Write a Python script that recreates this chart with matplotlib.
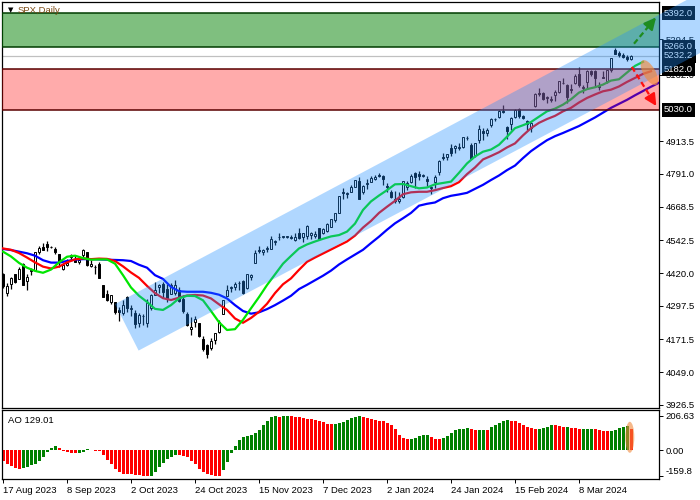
import matplotlib
matplotlib.use("Agg")
import matplotlib.pyplot as plt
from matplotlib.patches import Polygon, Ellipse
from matplotlib.transforms import ScaledTranslation

plt.rcParams['font.family'] = ['Liberation Sans', 'DejaVu Sans']

# daily bars, 17 Aug 2023 .. 27 Mar 2024 (bar index = position on the axis)
opens = [4416, 4344, 4380, 4416, 4397, 4455, 4389, 4426, 4432, 4500,
         4518, 4530, 4516, 4511, 4490, 4434, 4451, 4480, 4473, 4462,
         4487, 4497, 4445, 4441, 4453, 4375, 4342, 4311, 4312, 4282,
         4269, 4329, 4284, 4270, 4233, 4260, 4234, 4289, 4339, 4367,
         4380, 4360, 4342, 4345, 4357, 4322, 4267, 4210, 4235, 4232,
         4175, 4152, 4140, 4171, 4201, 4268, 4334, 4364, 4366, 4384,
         4392, 4365, 4406, 4458, 4505, 4497, 4509, 4511, 4538, 4553,
         4556, 4555, 4555, 4545, 4571, 4554, 4559, 4564, 4557, 4587,
         4568, 4576, 4593, 4618, 4646, 4721, 4714, 4725, 4743, 4765,
         4725, 4754, 4759, 4773, 4786, 4782, 4745, 4725, 4697, 4690,
         4703, 4741, 4759, 4793, 4791, 4784, 4772, 4739, 4760, 4797,
         4853, 4856, 4888, 4886, 4889, 4893, 4925, 4899, 4862, 4916,
         4950, 4944, 4973, 4995, 5004, 5027, 4967, 4977, 5004, 5032,
         5006, 4990, 4964, 5044, 5093, 5093, 5074, 5068, 5085, 5098,
         5131, 5123, 5108, 5132, 5164, 5111, 5134, 5174, 5176, 5123,
         5154, 5140, 5181, 5254, 5245, 5236, 5229, 5220]
highs = [4421, 4381, 4407, 4418, 4443, 4458, 4418, 4440, 4500, 4521,
         4532, 4541, 4522, 4516, 4491, 4457, 4473, 4490, 4488, 4479,
         4511, 4497, 4467, 4451, 4461, 4377, 4357, 4338, 4313, 4293,
         4318, 4335, 4300, 4282, 4269, 4268, 4324, 4341, 4385, 4378,
         4385, 4378, 4383, 4394, 4366, 4339, 4276, 4255, 4259, 4233,
         4184, 4156, 4177, 4195, 4245, 4320, 4374, 4373, 4386, 4391,
         4393, 4415, 4415, 4505, 4521, 4511, 4521, 4557, 4542, 4568,
         4560, 4560, 4562, 4568, 4588, 4569, 4599, 4572, 4578, 4590,
         4590, 4609, 4623, 4644, 4709, 4739, 4725, 4749, 4768, 4778,
         4749, 4772, 4784, 4785, 4793, 4788, 4755, 4729, 4727, 4722,
         4765, 4765, 4791, 4798, 4802, 4792, 4783, 4745, 4786, 4842,
         4868, 4866, 4903, 4898, 4907, 4929, 4932, 4906, 4907, 4975,
         4962, 4964, 5000, 5001, 5030, 5048, 4970, 5003, 5033, 5039,
         5010, 4994, 4984, 5094, 5111, 5098, 5081, 5081, 5105, 5140,
         5149, 5127, 5127, 5165, 5189, 5125, 5180, 5180, 5179, 5136,
         5176, 5180, 5226, 5261, 5250, 5243, 5235, 5234]
lows = [4364, 4335, 4360, 4382, 4396, 4375, 4356, 4414, 4431, 4493,
        4508, 4501, 4512, 4490, 4443, 4430, 4448, 4468, 4460, 4453,
        4478, 4448, 4442, 4417, 4401, 4329, 4316, 4303, 4265, 4239,
        4264, 4275, 4260, 4216, 4220, 4225, 4219, 4283, 4339, 4345,
        4325, 4312, 4342, 4338, 4311, 4269, 4223, 4190, 4220, 4181,
        4128, 4103, 4132, 4153, 4197, 4268, 4334, 4348, 4355, 4355,
        4341, 4360, 4394, 4458, 4496, 4487, 4500, 4511, 4525, 4545,
        4552, 4552, 4546, 4540, 4546, 4537, 4547, 4547, 4551, 4546,
        4565, 4574, 4593, 4611, 4644, 4696, 4701, 4725, 4743, 4697,
        4717, 4736, 4759, 4768, 4780, 4751, 4722, 4699, 4683, 4683,
        4700, 4730, 4757, 4740, 4769, 4780, 4747, 4714, 4740, 4785,
        4844, 4842, 4859, 4870, 4881, 4888, 4916, 4845, 4853, 4907,
        4916, 4934, 4965, 4987, 5000, 5017, 4920, 4956, 5000, 4999,
        4995, 4954, 4946, 5041, 5081, 5068, 5057, 5061, 5064, 5094,
        5127, 5057, 5092, 5128, 5117, 5092, 5111, 5157, 5120, 5104,
        5148, 5131, 5171, 5240, 5230, 5226, 5215, 5216]
closes = [4370, 4370, 4400, 4388, 4436, 4376, 4406, 4433, 4497, 4514,
          4508, 4516, 4518, 4497, 4465, 4451, 4457, 4487, 4462, 4467,
          4505, 4450, 4454, 4444, 4402, 4330, 4320, 4337, 4274, 4275,
          4300, 4288, 4288, 4229, 4263, 4258, 4308, 4336, 4358, 4376,
          4349, 4328, 4374, 4374, 4315, 4278, 4224, 4217, 4248, 4186,
          4137, 4117, 4167, 4194, 4238, 4318, 4358, 4366, 4378, 4383,
          4347, 4415, 4411, 4496, 4503, 4508, 4514, 4547, 4538, 4556,
          4557, 4559, 4550, 4554, 4551, 4568, 4595, 4569, 4567, 4549,
          4585, 4604, 4622, 4644, 4707, 4720, 4719, 4741, 4768, 4698,
          4746, 4755, 4775, 4781, 4783, 4770, 4743, 4705, 4689, 4697,
          4764, 4757, 4783, 4780, 4784, 4788, 4766, 4739, 4780, 4840,
          4850, 4865, 4868, 4895, 4891, 4928, 4925, 4846, 4906, 4959,
          4943, 4954, 4996, 4998, 5027, 5022, 4953, 5001, 5030, 5006,
          5001, 4976, 4982, 5088, 5089, 5070, 5078, 5070, 5096, 5137,
          5131, 5079, 5105, 5157, 5124, 5117, 5175, 5165, 5150, 5117,
          5149, 5179, 5225, 5241, 5234, 5229, 5219, 5232.2]

# Awesome Oscillator, one value per bar
ao = [-67, -83, -99, -111, -113, -107, -101, -93, -85, -67,
      -40, -10, 10, 24, 14, -4, -10, -16, -20, -18,
      -10, 4, -2, -4, -8, -32, -59, -85, -113, -133,
      -145, -147, -148, -149, -154, -157, -159.8, -155, -133, -105,
      -81, -57, -40, -30, -31, -34, -44, -67, -85, -113,
      -131, -145, -149, -155, -158, -121, -75, -16, 24, 61,
      81, 85, 93, 105, 121, 154, 178, 198, 204, 203,
      205, 206.63, 205.5, 202, 198, 194, 190, 186, 180, 176,
      168, 160, 159, 161, 162, 172, 184, 196, 200, 206,
      198, 196, 188, 180, 176, 175, 166, 150, 129, 93,
      71, 67, 68, 75, 85, 91, 93, 77, 67, 65,
      71, 85, 105, 119, 125, 129, 131, 127, 121, 123,
      124, 121, 137, 152, 162, 174, 180, 176, 175, 166,
      150, 139, 135, 125, 127, 133, 139, 152, 150, 143,
      137, 139, 135, 134, 125, 126, 127, 129, 125, 119,
      117, 115, 117, 123, 133, 141, 145, 129.01]

# Alligator lines read every second bar (they run past the last bar)
line_bars = list(range(0, 165, 2))
jaw = [4510, 4506, 4500, 4494, 4485, 4468, 4459, 4459, 4465, 4470,
       4472, 4472, 4471, 4470, 4469, 4468, 4465, 4451, 4440, 4412,
       4398, 4368, 4352, 4350, 4350, 4350, 4346, 4339, 4325, 4300,
       4278, 4268, 4273, 4285, 4300, 4317, 4335, 4360, 4376, 4393,
       4410, 4429, 4452, 4471, 4489, 4507, 4532, 4556, 4582, 4606,
       4625, 4645, 4672, 4679, 4684, 4700, 4709, 4714, 4720, 4735,
       4750, 4768, 4785, 4805, 4822, 4850, 4876, 4897, 4917, 4932,
       4944, 4957, 4970, 4986, 5002, 5020, 5038, 5053, 5068, 5085,
       5101, 5117, 5132]
teeth = [4512, 4507, 4495, 4478, 4460, 4444, 4437, 4444, 4460, 4471,
         4475, 4472, 4474, 4473, 4465, 4445, 4422, 4402, 4372, 4345,
         4326, 4319, 4328, 4336, 4338, 4336, 4325, 4303, 4282, 4250,
         4234, 4252, 4275, 4305, 4345, 4378, 4400, 4432, 4462, 4478,
         4493, 4508, 4523, 4538, 4560, 4590, 4615, 4645, 4668, 4690,
         4715, 4722, 4724, 4724, 4730, 4738, 4745, 4760, 4790, 4815,
         4845, 4858, 4872, 4890, 4905, 4935, 4962, 4982, 4996, 5008,
         5025, 5038, 5058, 5075, 5088, 5100, 5106, 5118, 5135, 5150,
         5165, 5175]
lips = [4500, 4482, 4458, 4440, 4428, 4421, 4433, 4460, 4481, 4485,
        4476, 4470, 4471, 4471, 4455, 4412, 4366, 4335, 4312, 4286,
        4282, 4300, 4325, 4335, 4334, 4318, 4278, 4236, 4207, 4210,
        4245, 4288, 4330, 4375, 4415, 4455, 4484, 4512, 4527, 4538,
        4548, 4557, 4562, 4575, 4605, 4656, 4688, 4710, 4730, 4752,
        4753, 4745, 4737, 4740, 4752, 4757, 4762, 4795, 4830, 4856,
        4874, 4882, 4900, 4930, 4962, 4973, 4985, 5005, 5025, 5035,
        5050, 5070, 5095, 5108, 5115, 5125, 5140, 5145, 5170, 5195,
        5210]

date_ticks = [0, 16, 32, 48, 64, 80, 96, 112, 128, 144]
date_labels = ['17 Aug 2023', '8 Sep 2023', '2 Oct 2023', '24 Oct 2023',
               '15 Nov 2023', '7 Dec 2023', '2 Jan 2024', '24 Jan 2024',
               '15 Feb 2024', '8 Mar 2024']
price_ticks = [5294.5, 5162.0, 4913.5, 4791.0, 4668.5, 4542.5, 4420.0,
               4297.5, 4171.5, 4049.0, 3926.5]
marked_levels = [5392.0, 5266.0, 5232.2, 5182.0, 5030.0]
bid = 5232.2
resistance_zone = (5266.0, 5392.0)
support_zone = (5030.0, 5182.0)

# trend channel corners (bar, price): top-left, bottom-left, bottom-right, top-right
channel_bars = [28.0, 33.9, 174.25, 174.25]
channel_prices = [4304, 4130, 5243, 5468]
# forecast arrows: (tail bar, tail price, tip bar, tip price)
up_arrow = (157.75, 5278, 163.7, 5384)
down_arrow = (157.2, 5191, 163.7, 5036)

fig = plt.figure(figsize=(7, 5), dpi=100)
ax = fig.add_axes([2 / 700, 1 - 407.5 / 500, 657 / 700, 405.5 / 500])
ao_ax = fig.add_axes([2 / 700, 1 - 479 / 500, 657 / 700, 69 / 500])

bars = list(range(len(closes)))

# candles
ax.vlines(bars, lows, highs, color='black', lw=0.9, zorder=2)
body_low = [min(o, c) for o, c in zip(opens, closes)]
body_h = [max(abs(c - o), 1.5) for o, c in zip(opens, closes)]
body_col = ['white' if c >= o else 'black' for o, c in zip(opens, closes)]
ax.bar(bars, body_h, bottom=body_low, width=0.7, color=body_col,
       edgecolor='black', linewidth=0.7, zorder=2.2)

# alligator
ax.plot(line_bars[:len(jaw)], jaw, color='#0000ff', lw=1.6, zorder=3)
ax.plot(line_bars[:len(teeth)], teeth, color='#ff0000', lw=1.6, zorder=3)
ax.plot(line_bars[:len(lips)], lips, color='#00e600', lw=1.6, zorder=3)

ax.axhline(bid, color='#c0c0c0', lw=0.9, zorder=1.5)

# zones
ax.axhspan(*resistance_zone, color=(0, 0.5, 0), alpha=0.5, lw=0, zorder=5)
ax.axhspan(*support_zone, color=(1, 0, 0), alpha=0.33, lw=0, zorder=5)
for lvl in resistance_zone:
    ax.axhline(lvl, color='#003c00', lw=1.1, zorder=5.5)
for lvl in support_zone:
    ax.axhline(lvl, color='#5a0000', lw=1.1, zorder=5.5)

ax.set_xlim(-0.25, 164)
ax.set_ylim(3917, 5434)
ax.set_xticks([])
ax.yaxis.tick_right()
ax.set_yticks(price_ticks)
ax.set_yticklabels([f'{v:.1f}' for v in price_ticks])
ax.tick_params(axis='y', length=3, width=0.7, pad=2, labelsize=6.8)
for s in ax.spines.values():
    s.set_linewidth(0.9)

for lvl in marked_levels:
    ax.annotate(f'{lvl:.1f}', xy=(1, lvl), xycoords=('axes fraction', 'data'),
                xytext=(5, 0), textcoords='offset pixels', ha='left', va='center',
                color='white', fontsize=6.8, zorder=8, annotation_clip=False,
                bbox=dict(boxstyle='square,pad=0.25', fc='black', ec='none'))

# channel drawn over everything, spilling onto the price scale
channel = Polygon(list(zip(channel_bars, channel_prices)), closed=True,
                  facecolor=(0.12, 0.56, 1.0), alpha=0.35, lw=0,
                  clip_on=False, zorder=9)
ax.add_patch(channel)

# arrows
for (x0, y0, x1, y1), col in [(up_arrow, '#1e8c1e'), (down_arrow, '#ff1010')]:
    xm = x1 - (x1 - x0) * 0.25
    ym = y1 - (y1 - y0) * 0.25
    ax.plot([x0, xm], [y0, ym], color=col, lw=1.6, ls=(0, (2.5, 1.5)), zorder=11)
    ax.annotate('', xy=(x1, y1), xytext=(xm, ym),
                arrowprops=dict(arrowstyle='-|>,head_length=0.7,head_width=0.35',
                                color=col, lw=1.6, mutation_scale=10),
                zorder=11, annotation_clip=False)

# highlight at the end of the alligator
glow = Ellipse((0, 0), 0.28, 0.12, angle=-60,
               transform=fig.dpi_scale_trans + ScaledTranslation(161.6, 5170, ax.transData),
               facecolor='#f08a3c', alpha=0.65, lw=0, zorder=10)
ax.add_patch(glow)

ax.text(0.009, 0.980, '\u25bc', transform=ax.transAxes, fontsize=5,
        va='center', ha='left', color='black', family=['DejaVu Sans'], zorder=12)
ax.text(0.024, 0.980, 'SPX,Daily', transform=ax.transAxes, fontsize=6.8,
        va='center', ha='left', color='#7a4a14', zorder=12)

# AO panel
ao_col = ['#ff0000' if i == 0 or ao[i] < ao[i - 1] else '#008000' for i in range(len(ao))]
ao_ax.bar(bars, ao, width=0.75, color=ao_col, linewidth=0, zorder=2)
ao_glow = Ellipse((0, 0), 0.09, 0.31,
                  transform=fig.dpi_scale_trans + ScaledTranslation(156.7, ao[-1] * 0.6, ao_ax.transData),
                  facecolor='#f08a3c', alpha=0.6, lw=0, zorder=4)
ao_ax.add_patch(ao_glow)
ao_ax.set_xlim(-0.25, 164)
ao_ax.set_ylim(-176, 243)
ao_ax.yaxis.tick_right()
ao_ax.set_yticks([206.63, 0.0, -159.8])
ao_ax.set_yticklabels(['206.63', '0.00', '-159.8'])
ao_ax.get_yticklabels()[2].set_va('bottom')
ao_ax.tick_params(axis='y', length=3, width=0.7, pad=2, labelsize=6.8)
ao_ax.set_xticks(date_ticks)
ao_ax.set_xticklabels(date_labels, ha='left')
ao_ax.tick_params(axis='x', length=3, width=0.7, pad=2, labelsize=6.8)
for s in ao_ax.spines.values():
    s.set_linewidth(0.9)
ao_ax.text(0.009, 0.855, f'AO {ao[-1]:.2f}', transform=ao_ax.transAxes,
           fontsize=6.8, va='center', ha='left', color='black')

fig.savefig('out.png', dpi=100)
